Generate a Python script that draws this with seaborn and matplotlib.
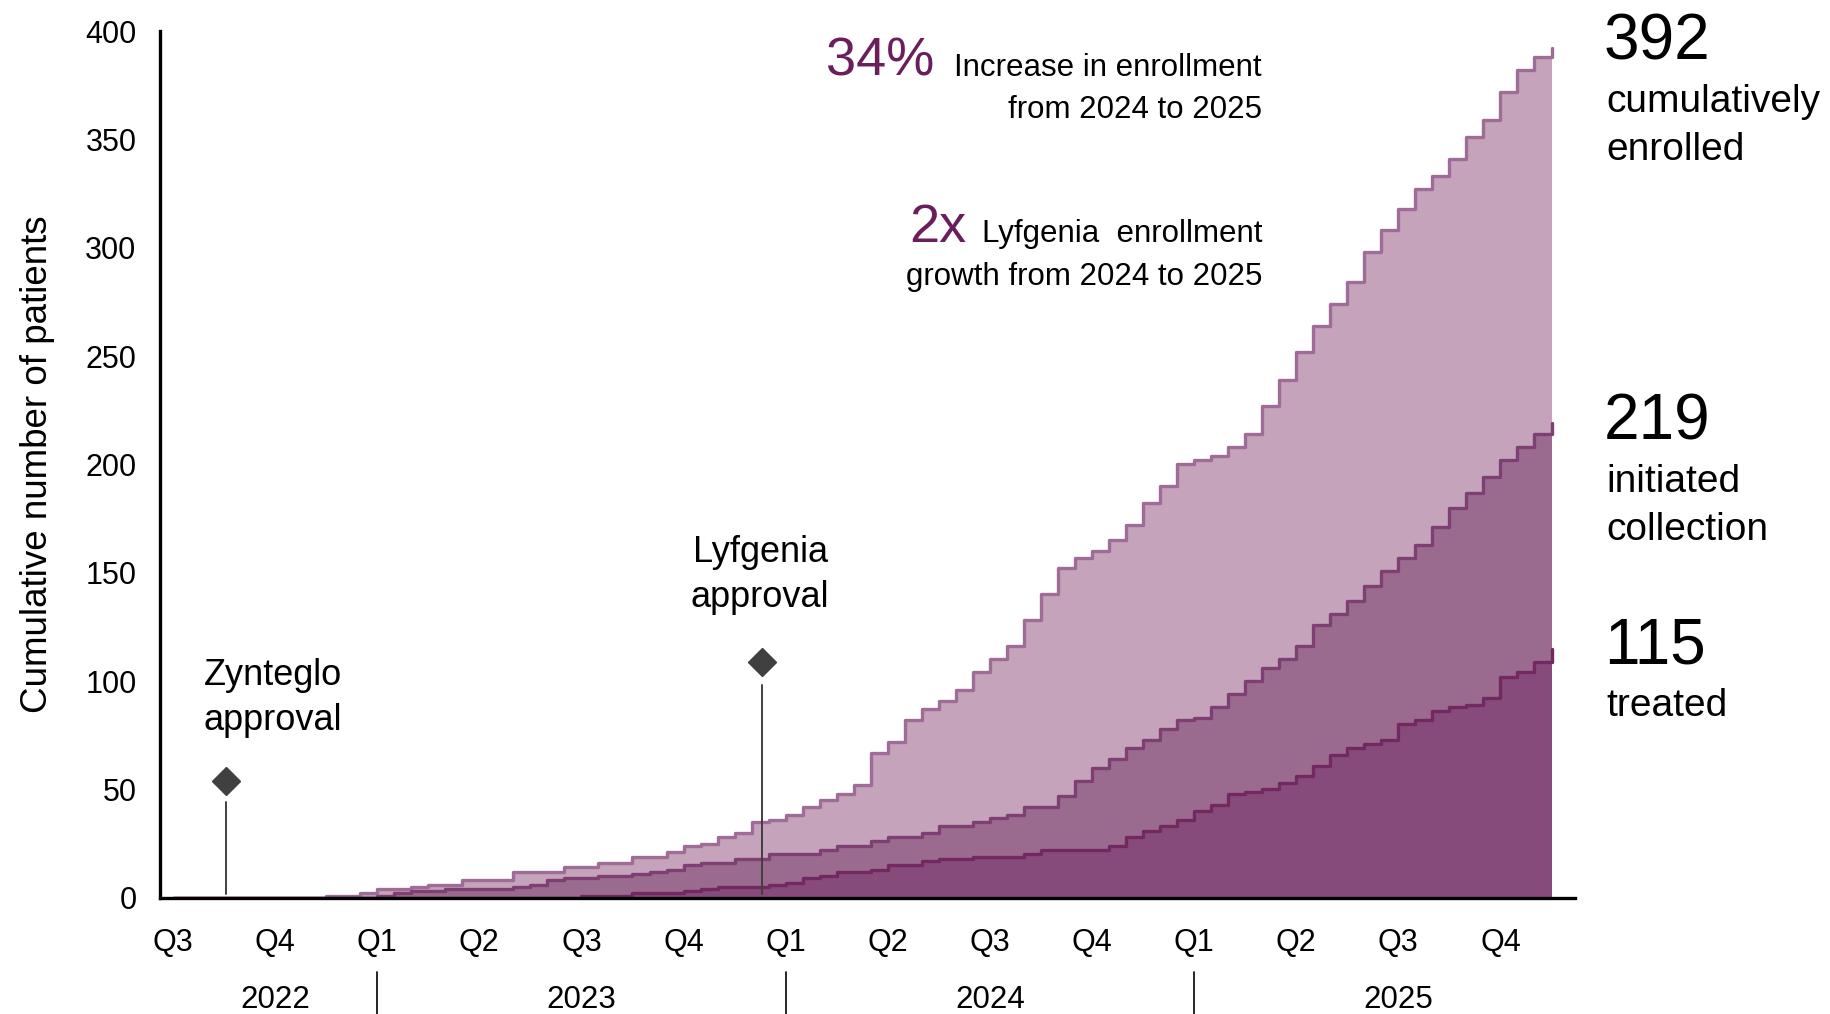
import numpy as np
import pandas as pd
import matplotlib.pyplot as plt
import matplotlib.transforms as mtransforms
import seaborn as sns

sns.set_style('white')
plt.rcParams['font.family'] = ['Liberation Sans', 'DejaVu Sans']
plt.rcParams['text.color'] = 'black'
plt.rcParams['axes.labelcolor'] = 'black'

# time axis: quarters since start of Q3 2022, read every half month
quarters = np.arange(82) / 6

enrolled = [0, 0, 0, 0, 0, 0, 0, 0, 0, 1, 1, 2, 4, 4, 5, 6, 6, 8, 8, 8,
            12, 12, 12, 14, 14, 16, 16, 19, 19, 21, 24, 25, 28, 30, 35, 36, 38, 42, 45, 48,
            52, 67, 72, 82, 87, 91, 96, 104, 110, 116, 128, 140, 152, 157, 160, 165, 172, 182, 190, 200,
            202, 204, 208, 214, 227, 239, 252, 264, 274, 284, 298, 308, 318, 327, 333, 341, 351, 359, 372, 382,
            388, 392]
collection = [0, 0, 0, 0, 0, 0, 0, 0, 0, 0, 0, 0, 1, 2, 3, 3, 4, 4, 4, 4,
              5, 6, 8, 9, 9, 10, 10, 11, 12, 13, 15, 16, 16, 18, 18, 20, 20, 20, 22, 24,
              24, 26, 28, 28, 30, 33, 33, 35, 37, 38, 42, 42, 47, 54, 60, 64, 69, 73, 78, 82,
              83, 88, 94, 100, 106, 110, 116, 126, 131, 137, 144, 151, 157, 163, 171, 180, 187, 194, 202, 208,
              214, 219]
treated = [0, 0, 0, 0, 0, 0, 0, 0, 0, 0, 0, 0, 0, 0, 0, 0, 0, 0, 0, 0,
           0, 0, 0, 0, 1, 1, 1, 2, 2, 2, 3, 4, 5, 5, 5, 6, 7, 9, 10, 12,
           12, 13, 15, 15, 17, 18, 18, 19, 19, 19, 20, 22, 22, 22, 22, 24, 28, 31, 33, 36,
           40, 43, 48, 49, 50, 53, 56, 61, 66, 69, 71, 73, 80, 82, 86, 88, 89, 92, 102, 104,
           109, 115]

quarter_labels = ['Q3', 'Q4', 'Q1', 'Q2', 'Q3', 'Q4', 'Q1', 'Q2', 'Q3', 'Q4', 'Q1', 'Q2', 'Q3', 'Q4']
years = ['2022', '2023', '2024', '2025']
year_centers = [1, 4, 8, 12]
year_breaks = [2, 6, 10]

approvals = [['Zynteglo', 'approval'], ['Lyfgenia', 'approval']]
approval_q = [0.52, 5.77]
approval_marker = [54, 109]
approval_stem_top = [44, 98]

totals = ['392', '219', '115']
total_labels = ['cumulatively\nenrolled', 'initiated\ncollection', 'treated']

df = pd.DataFrame({'q': quarters, 'enrolled': enrolled,
                   'collection': collection, 'treated': treated})

fills = {'enrolled': '#c4a3bb', 'collection': '#9b6b8f', 'treated': '#874b7b'}
edges = {'enrolled': '#9f6c97', 'collection': '#7e3f72', 'treated': '#71295f'}

W, H = 1830, 1014
fig = plt.figure(figsize=(W / 100, H / 100), dpi=100)
ax = fig.add_axes([160 / W, 1 - 897.7 / H, (1575 - 160) / W, (897.7 - 31) / H])

for col in ['enrolled', 'collection', 'treated']:
    ax.fill_between(df['q'], df[col], step='post', color=fills[col], lw=0, zorder=1)
for col in ['enrolled', 'collection', 'treated']:
    sns.lineplot(data=df, x='q', y=col, ax=ax, drawstyle='steps-post',
                 color=edges[col], lw=2.4, zorder=2)

# approval markers
for q, m, top in zip(approval_q, approval_marker, approval_stem_top):
    ax.plot([q, q], [1.5, top], color='#404040', lw=1.4, zorder=3)
    ax.plot(q, m, marker='D', ms=14, color='#404040', zorder=4)
for line, yv in zip(approvals[0], [98, 77.5]):
    ax.text(0.302, yv, line, fontsize=26, ha='left', va='baseline')
for line, yv in zip(approvals[1], [155, 134.3]):
    ax.text(5.75, yv, line, fontsize=26, ha='center', va='baseline')

ax.set_xlim(-0.127, 13.73)
ax.set_ylim(0, 400)
ax.set_xticks(range(len(quarter_labels)))
ax.set_xticklabels(quarter_labels)
ax.set_yticks(range(0, 401, 50))
ax.tick_params(axis='both', direction='out', length=12, width=2.2, labelsize=22,
               colors='black', pad=5)
ax.tick_params(axis='x', pad=10)
ax.set_xlabel('')
ax.set_ylabel('Cumulative number of patients', fontsize=26.5, labelpad=22)
sns.despine(ax=ax)
for s in ['left', 'bottom']:
    ax.spines[s].set_linewidth(2.4)
    ax.spines[s].set_color('black')

# year row under the quarter labels
trans = mtransforms.blended_transform_factory(ax.transData, ax.transAxes)
for xb in year_breaks:
    ax.plot([xb, xb], [-0.086, -0.14], color='black', lw=1.2, transform=trans, clip_on=False)
for yr, xc in zip(years, year_centers):
    ax.text(xc, -0.1185, yr, transform=trans, ha='center', va='center', fontsize=22.5)


def px(x, y):
    return x / W, 1 - y / H


# callouts at the top
purple = '#6b1e5c'
fig.text(*px(934, 76), '34%', fontsize=39, color=purple, ha='right', va='baseline')
fig.text(*px(1262, 76), 'Increase in enrollment', fontsize=22.5, ha='right', va='baseline')
fig.text(*px(1262, 118), 'from 2024 to 2025', fontsize=22.5, ha='right', va='baseline')
fig.text(*px(966, 242), '2x', fontsize=39, color=purple, ha='right', va='baseline')
fig.text(*px(1262, 242), 'Lyfgenia  enrollment', fontsize=22.5, ha='right', va='baseline')
fig.text(*px(1262, 285), 'growth from 2024 to 2025', fontsize=22.5, ha='right', va='baseline')

# totals on the right
num_base = [60, 440, 663]
lab_base = [112, 492, 716]
for t, lab, nb, lb in zip(totals, total_labels, num_base, lab_base):
    fig.text(*px(1604, nb), t, fontsize=46, ha='left', va='baseline')
    for i, line in enumerate(lab.split('\n')):
        fig.text(*px(1606, lb + i * 48), line, fontsize=28, ha='left', va='baseline')

fig.savefig('out.png', dpi=100)
